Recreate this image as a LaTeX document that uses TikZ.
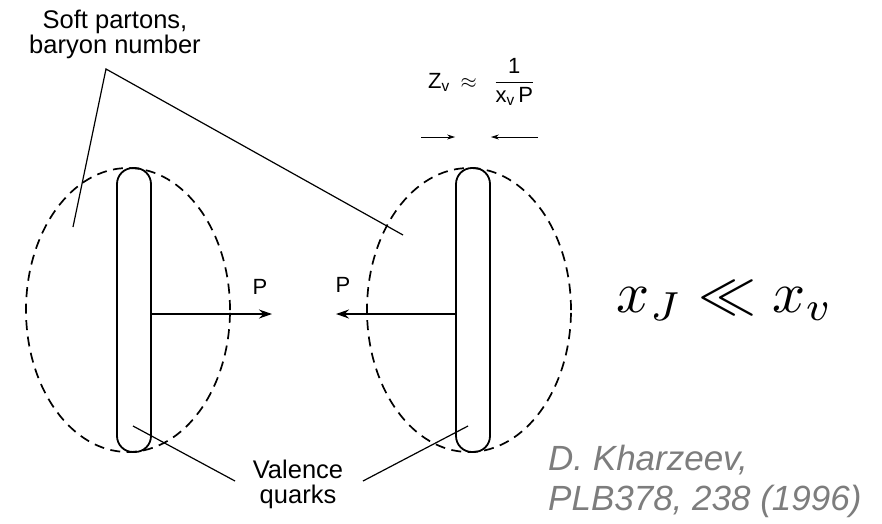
\documentclass[tikz,border=0pt]{standalone}
\usepackage{amsmath}
\usepackage{fontspec}
\setmainfont{Liberation Sans}
\usepackage{xcolor}
\usetikzlibrary{shapes.geometric,arrows.meta,positioning,calc}
\definecolor{citegray}{RGB}{125,125,125}

\begin{document}
\begin{tikzpicture}[x=1pt,y=-1pt,
    cloud/.style={ellipse, draw, line width=1.7pt, dash pattern=on 10pt off 6.5pt,
        minimum width=204pt, minimum height=284pt, inner sep=0pt},
    bar/.style={draw, line width=1.8pt, rounded corners=16pt,
        minimum width=34pt, minimum height=284pt, inner sep=0pt},
    lab/.style={font=\fontsize{25.5}{24.5}\selectfont, inner sep=0pt, align=center},
    plab/.style={font=\fontsize{22}{22}\selectfont, inner sep=0pt},
    mom/.style={-{Stealth[length=13pt,width=9pt]}, line width=1.5pt},
    small/.style={-{Stealth[length=8pt,width=5pt]}, line width=0.9pt},
    lead/.style={line width=1.2pt},
    cite/.style={font=\fontsize{35}{40}\selectfont\itshape, text=citegray,
        inner sep=0pt, anchor=base west}]
\useasboundingbox (0,0) rectangle (882,523);

% the two nucleons
\node[cloud] (lcloud) at (128,310) {};
\node[bar] (lbar) at (134,310) {};
\node[cloud] (rcloud) at (469,310) {};
\node[bar] (rbar) at (473,310) {};

% momenta
\coordinate (ltip) at (272,314);
\coordinate (rtip) at (336,314);
\draw[mom] ([yshift=-4pt]lbar.east) -- (ltip);
\draw[mom] ([yshift=-4pt]rbar.west) -- (rtip);
\node[plab] (lp) at (260,287) {P};
\node[plab] (rp) at (343,285) {P};

% contracted length
\node[plab, anchor=base west] (zv) at (428,88)
    {Z$_{\text{v}}\hspace{5pt}\approx\hspace{12pt}\dfrac{\text{1}}{\text{x}_{\text{v}}\,\text{P}}$};
\coordinate (zleft) at (421,137);
\coordinate (zright) at (538,137);
\draw[small] (zleft) -- (zleft -| rbar.west);
\draw[small] (zright) -- (zright -| rbar.east);

% labels and leaders
\node[lab, anchor=base] (soft) at (115,53) {Soft partons,\\baryon number};
\coordinate (apex) at (106,69);
\coordinate (lsoft) at (73,227);
\coordinate (rsoft) at (403,235);
\draw[lead] (lsoft) -- (apex) -- (rsoft);

\node[lab, anchor=base] (valence) at (298,503) {Valence\\quarks};
\coordinate (lval) at (133,426);
\coordinate (rval) at (468,426);
\coordinate (lvalend) at (235,481);
\coordinate (rvalend) at (363,481);
\draw[lead] (lval) -- (lvalend);
\draw[lead] (rval) -- (rvalend);

\node[scale=5.8, inner sep=0pt, anchor=base] (xrel)
    at (725,312) {$x_J \ll x_v$};

\node[cite] (cite1) at (548,470) {D. Kharzeev,};
\node[cite] (cite2) at (548,510) {PLB378, 238 (1996)};
\end{tikzpicture}
\end{document}
